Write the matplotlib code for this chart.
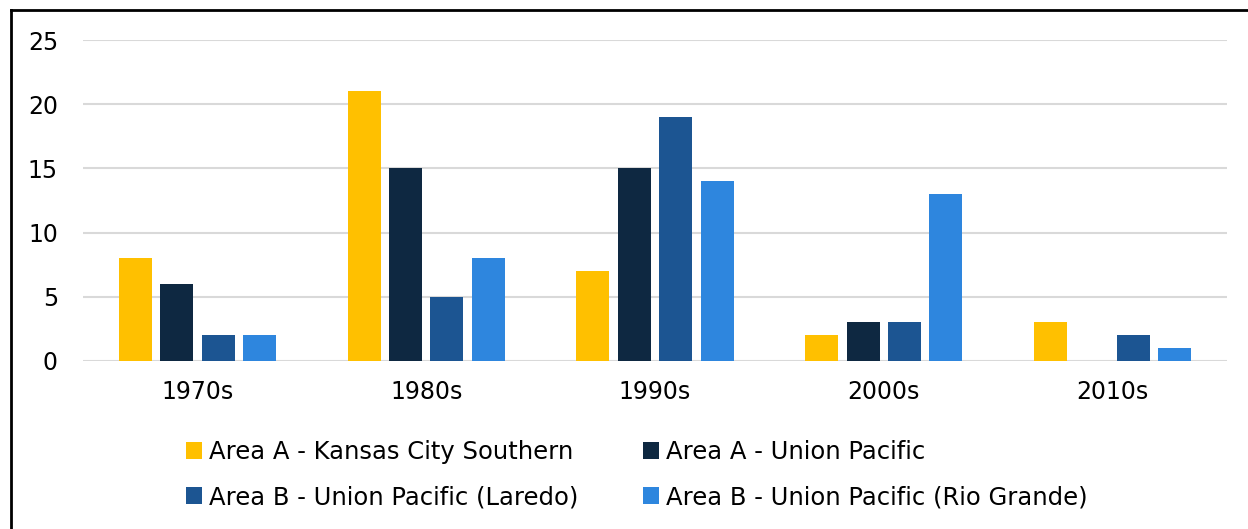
import matplotlib

matplotlib.use("Agg")
import matplotlib.pyplot as plt
import numpy as np
from matplotlib.lines import Line2D
from matplotlib.patches import Patch

plt.rcParams["font.family"] = ["DejaVu Sans"]

decades = ["1970s", "1980s", "1990s", "2000s", "2010s"]
series_names = [
    "Area A - Kansas City Southern",
    "Area A - Union Pacific",
    "Area B - Union Pacific (Laredo)",
    "Area B - Union Pacific (Rio Grande)",
]
kcs_a = [8, 21, 7, 2, 3]
up_a = [6, 15, 15, 3, 0]
up_laredo = [2, 5, 19, 3, 2]
up_rio = [2, 8, 14, 13, 1]
colors = ["#FFC000", "#0E2841", "#1C5592", "#2E86DE"]

W, H = 1248, 529
fig = plt.figure(figsize=(W / 100, H / 100), dpi=100)
ax = fig.add_axes([83 / W, 1 - 361 / H, (1227 - 83) / W, (361 - 40) / H])

x = np.arange(len(decades))
width = 0.144
pitch = 0.181
for i, (vals, col) in enumerate(zip([kcs_a, up_a, up_laredo, up_rio], colors)):
    ax.bar(x + (i - 1.5) * pitch, vals, width=width, color=col, zorder=3)

ax.set_xlim(-0.5, len(decades) - 0.5)
ax.set_ylim(0, 25)
ax.set_yticks(range(0, 26, 5))
ax.set_xticks(x)
ax.set_xticklabels(decades)
ax.grid(axis="y", color="#D9D9D9", linewidth=1.5, zorder=0)
for s in ax.spines.values():
    s.set_visible(False)
ax.tick_params(axis="both", length=0, labelsize=17, colors="black")
ax.tick_params(axis="y", pad=18)
ax.tick_params(axis="x", pad=14)

# legend fills column-wise, so reorder to read row by row
order = [0, 2, 1, 3]
handles = [Patch(facecolor=colors[k], edgecolor="none") for k in order]
labels = [series_names[k] for k in order]
fig.legend(
    handles,
    labels,
    ncol=2,
    loc="upper left",
    bbox_to_anchor=(176 / W, 1 - 430 / H),
    frameon=False,
    fontsize=17.5,
    handlelength=0.68,
    handleheight=0.68,
    handletextpad=0.28,
    columnspacing=2.65,
    labelspacing=0.88,
    borderaxespad=0,
)

# outer frame (cropped screenshot)
fig.add_artist(Line2D([11 / W, 11 / W], [0, 1 - 10 / H], color="black", lw=2, transform=fig.transFigure))
fig.add_artist(Line2D([11 / W, 1], [1 - 10 / H, 1 - 10 / H], color="black", lw=2, transform=fig.transFigure))

fig.savefig("out.png", dpi=100)
